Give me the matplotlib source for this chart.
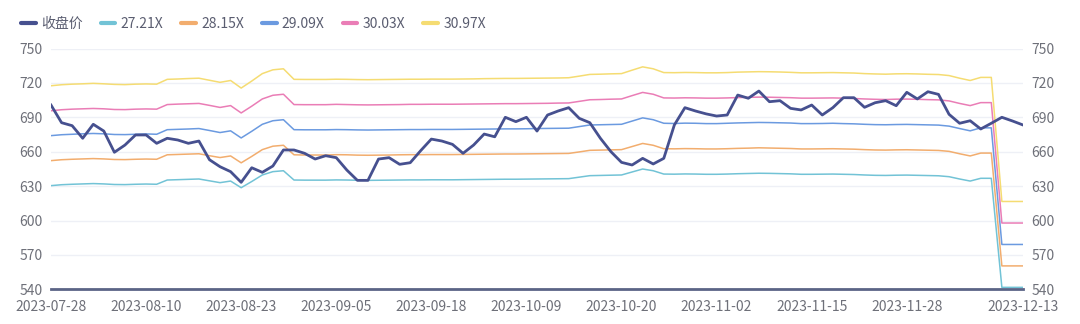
import matplotlib.pyplot as plt
from matplotlib.lines import Line2D

plt.rcParams['font.family'] = ['Noto Sans CJK SC', 'DejaVu Sans']

# trading days
dates = [
    '2023-07-28', '2023-07-31',
    '2023-08-01', '2023-08-02', '2023-08-03', '2023-08-04', '2023-08-07', '2023-08-08',
    '2023-08-09', '2023-08-10', '2023-08-11', '2023-08-14', '2023-08-15', '2023-08-16',
    '2023-08-17', '2023-08-18', '2023-08-21', '2023-08-22', '2023-08-23', '2023-08-24',
    '2023-08-25', '2023-08-28', '2023-08-29', '2023-08-30', '2023-08-31',
    '2023-09-01', '2023-09-04', '2023-09-05', '2023-09-06', '2023-09-07', '2023-09-08',
    '2023-09-11', '2023-09-12', '2023-09-13', '2023-09-14', '2023-09-15', '2023-09-18',
    '2023-09-19', '2023-09-20', '2023-09-21', '2023-09-22', '2023-09-25', '2023-09-26',
    '2023-09-27', '2023-09-28',
    '2023-10-09', '2023-10-10', '2023-10-11', '2023-10-12', '2023-10-13', '2023-10-16',
    '2023-10-17', '2023-10-18', '2023-10-19', '2023-10-20', '2023-10-23', '2023-10-24',
    '2023-10-25', '2023-10-26', '2023-10-27', '2023-10-30', '2023-10-31',
    '2023-11-01', '2023-11-02', '2023-11-03', '2023-11-06', '2023-11-07', '2023-11-08',
    '2023-11-09', '2023-11-10', '2023-11-13', '2023-11-14', '2023-11-15', '2023-11-16',
    '2023-11-17', '2023-11-20', '2023-11-21', '2023-11-22', '2023-11-23', '2023-11-24',
    '2023-11-27', '2023-11-28', '2023-11-29', '2023-11-30',
    '2023-12-01', '2023-12-04', '2023-12-05', '2023-12-06', '2023-12-07', '2023-12-08',
    '2023-12-11', '2023-12-12', '2023-12-13',
]

close = [
    700.7, 685.3, 682.7, 671.7, 683.9, 678.0, 659.5, 665.8, 674.6, 674.6,
    667.3, 671.7, 670.2, 667.3, 669.3, 653.0, 646.9, 642.6, 633.3, 646.0,
    642.0, 647.5, 661.5, 661.5, 658.6, 653.6, 656.5, 654.8, 644.0, 635.0,
    635.0, 653.6, 654.8, 649.0, 650.4, 661.0, 671.0, 669.3, 666.4, 658.6,
    665.8, 675.4, 673.0, 690.0, 686.2, 690.0, 678.0, 692.0, 695.5, 698.4,
    689.1, 685.3, 671.7, 660.0, 650.7, 648.4, 654.2, 649.3, 654.2, 683.3,
    698.4, 695.5, 693.0, 691.1, 692.0, 709.4, 706.6, 712.9, 703.6, 704.5,
    697.8, 696.4, 700.7, 692.0, 698.4, 707.1, 707.1, 698.7, 702.7, 704.5,
    700.1, 711.8, 706.0, 712.3, 710.0, 692.6, 684.8, 687.0, 679.8, 684.8,
    690.0, 686.8, 683.3,
]

pe_27_21 = [
    630.4, 631.2, 631.6, 631.9, 632.2, 631.9, 631.4, 631.3, 631.6, 631.8,
    631.6, 635.3, 635.6, 635.9, 636.2, 634.6, 633.0, 634.4, 628.6, 634.0,
    639.7, 642.6, 643.4, 635.3, 635.2, 635.2, 635.2, 635.4, 635.3, 635.1,
    635.0, 635.1, 635.2, 635.3, 635.4, 635.4, 635.5, 635.5, 635.5, 635.6,
    635.7, 635.8, 635.9, 636.0, 636.0, 636.1, 636.2, 636.3, 636.4, 636.5,
    637.8, 639.1, 639.3, 639.5, 639.7, 642.3, 644.9, 643.4, 640.5, 640.4,
    640.6, 640.5, 640.3, 640.3, 640.5, 640.8, 641.0, 641.2, 641.1, 640.9,
    640.7, 640.3, 640.3, 640.4, 640.5, 640.3, 640.1, 639.7, 639.4, 639.3,
    639.5, 639.6, 639.4, 639.2, 639.0, 638.2, 636.2, 634.4, 636.8, 636.8,
    541.7, 541.7, 541.7,
]

pe_28_15 = [
    652.2, 653.0, 653.4, 653.7, 654.0, 653.7, 653.2, 653.1, 653.4, 653.6,
    653.4, 657.3, 657.6, 657.9, 658.2, 656.5, 654.9, 656.3, 650.3, 655.9,
    661.8, 664.8, 665.6, 657.3, 657.1, 657.1, 657.1, 657.4, 657.3, 657.0,
    656.9, 657.0, 657.1, 657.3, 657.4, 657.4, 657.5, 657.5, 657.5, 657.6,
    657.7, 657.8, 657.9, 658.0, 658.0, 658.1, 658.2, 658.3, 658.4, 658.5,
    659.8, 661.2, 661.4, 661.6, 661.8, 664.5, 667.2, 665.6, 662.6, 662.5,
    662.7, 662.6, 662.4, 662.4, 662.6, 662.9, 663.1, 663.4, 663.2, 663.0,
    662.8, 662.4, 662.4, 662.5, 662.6, 662.4, 662.2, 661.8, 661.5, 661.4,
    661.6, 661.7, 661.5, 661.3, 661.1, 660.3, 658.2, 656.3, 658.8, 658.8,
    560.4, 560.4, 560.4,
]

pe_29_09 = [
    674.0, 674.8, 675.2, 675.6, 675.9, 675.6, 675.0, 674.9, 675.2, 675.5,
    675.2, 679.2, 679.5, 679.8, 680.2, 678.5, 676.7, 678.2, 672.0, 677.8,
    683.9, 687.0, 687.9, 679.2, 679.1, 679.1, 679.1, 679.3, 679.2, 679.0,
    678.9, 679.0, 679.1, 679.2, 679.3, 679.3, 679.4, 679.4, 679.4, 679.5,
    679.6, 679.7, 679.8, 679.9, 679.9, 680.0, 680.2, 680.3, 680.4, 680.5,
    681.9, 683.3, 683.5, 683.7, 683.9, 686.7, 689.5, 687.9, 684.8, 684.6,
    684.9, 684.8, 684.5, 684.5, 684.8, 685.1, 685.3, 685.5, 685.4, 685.2,
    685.0, 684.5, 684.5, 684.6, 684.8, 684.5, 684.3, 683.9, 683.6, 683.5,
    683.7, 683.8, 683.6, 683.4, 683.2, 682.3, 680.2, 678.2, 680.8, 680.8,
    579.1, 579.1, 579.1,
]

pe_30_03 = [
    695.7, 696.6, 697.1, 697.4, 697.7, 697.4, 696.8, 696.7, 697.1, 697.3,
    697.1, 701.1, 701.5, 701.8, 702.1, 700.4, 698.6, 700.2, 693.8, 699.7,
    706.0, 709.2, 710.1, 701.1, 701.0, 701.0, 701.0, 701.3, 701.1, 700.9,
    700.8, 700.9, 701.0, 701.1, 701.3, 701.3, 701.4, 701.4, 701.4, 701.5,
    701.6, 701.7, 701.8, 701.9, 701.9, 702.0, 702.1, 702.2, 702.4, 702.5,
    703.9, 705.3, 705.5, 705.8, 706.0, 708.9, 711.7, 710.1, 706.9, 706.8,
    707.0, 706.9, 706.7, 706.7, 706.9, 707.2, 707.4, 707.6, 707.5, 707.3,
    707.1, 706.7, 706.7, 706.8, 706.9, 706.7, 706.4, 706.0, 705.7, 705.5,
    705.8, 705.9, 705.7, 705.4, 705.2, 704.3, 702.1, 700.2, 702.8, 702.8,
    597.8, 597.8, 597.8,
]

pe_30_97 = [
    717.5, 718.4, 718.9, 719.2, 719.6, 719.2, 718.7, 718.5, 718.9, 719.1,
    718.9, 723.1, 723.4, 723.8, 724.1, 722.3, 720.5, 722.1, 715.5, 721.6,
    728.1, 731.4, 732.3, 723.1, 723.0, 723.0, 723.0, 723.2, 723.1, 722.9,
    722.8, 722.9, 723.0, 723.1, 723.2, 723.2, 723.3, 723.3, 723.3, 723.4,
    723.5, 723.7, 723.8, 723.9, 723.9, 724.0, 724.1, 724.2, 724.3, 724.5,
    725.9, 727.4, 727.6, 727.9, 728.1, 731.1, 734.0, 732.3, 729.0, 728.9,
    729.1, 729.0, 728.8, 728.8, 729.0, 729.4, 729.6, 729.8, 729.7, 729.5,
    729.2, 728.8, 728.8, 728.9, 729.0, 728.8, 728.6, 728.1, 727.8, 727.6,
    727.9, 728.0, 727.8, 727.5, 727.3, 726.4, 724.1, 722.1, 724.8, 724.8,
    616.6, 616.6, 616.6,
]

bands = {
    '27.21X': (pe_27_21, '#72c3d6'),
    '28.15X': (pe_28_15, '#f2ad6e'),
    '29.09X': (pe_29_09, '#6b9ae0'),
    '30.03X': (pe_30_03, '#ea7db6'),
    '30.97X': (pe_30_97, '#f5dc72'),
}
close_color = '#46508f'
label_color = '#6e7079'

fig = plt.figure(figsize=(10.8, 3.24), dpi=100)
ax = fig.add_axes([51 / 1080, 1 - 289.3 / 324, (1023 - 51) / 1080, (289.3 - 48.5) / 324])

x = list(range(len(dates)))
ax.plot(x, close, color=close_color, lw=2.0, zorder=5, solid_joinstyle='round')
for name, (vals, col) in bands.items():
    ax.plot(x, vals, color=col, lw=1.1, zorder=3)

ax.set_xlim(0, len(dates) - 1)
ax.set_ylim(540, 750)
yticks = [540, 570, 600, 630, 660, 690, 720, 750]
ax.set_yticks(yticks)
ax.grid(axis='y', color='#eef0f6', lw=1, zorder=0)
ax.grid(axis='x', visible=False)

tick_idx = list(range(0, 82, 9)) + [len(dates) - 1]
ax.set_xticks(tick_idx)
ax.set_xticklabels([dates[i] for i in tick_idx])

for s in ['top', 'left', 'right']:
    ax.spines[s].set_visible(False)
ax.spines['bottom'].set_color('#5b6486')
ax.spines['bottom'].set_linewidth(2)
ax.spines['bottom'].set_zorder(6)

ax.tick_params(axis='x', length=0, pad=8, labelsize=10, labelcolor=label_color)
ax.tick_params(axis='y', length=0, pad=6, labelsize=10, labelcolor=label_color,
               labelright=True)

handles = [Line2D([], [], color=close_color, lw=3, solid_capstyle='round', label='收盘价')]
for name, (vals, col) in bands.items():
    handles.append(Line2D([], [], color=col, lw=3, solid_capstyle='round', label=name))
fig.legend(handles=handles, loc='center left', bbox_to_anchor=(21 / 1080, 1 - 24 / 324),
           ncol=6, frameon=False, fontsize=10, handlelength=1.05, handletextpad=0.38,
           columnspacing=1.3, borderpad=0, borderaxespad=0, labelcolor='#5a5d70')

fig.savefig('out.png', dpi=100)
